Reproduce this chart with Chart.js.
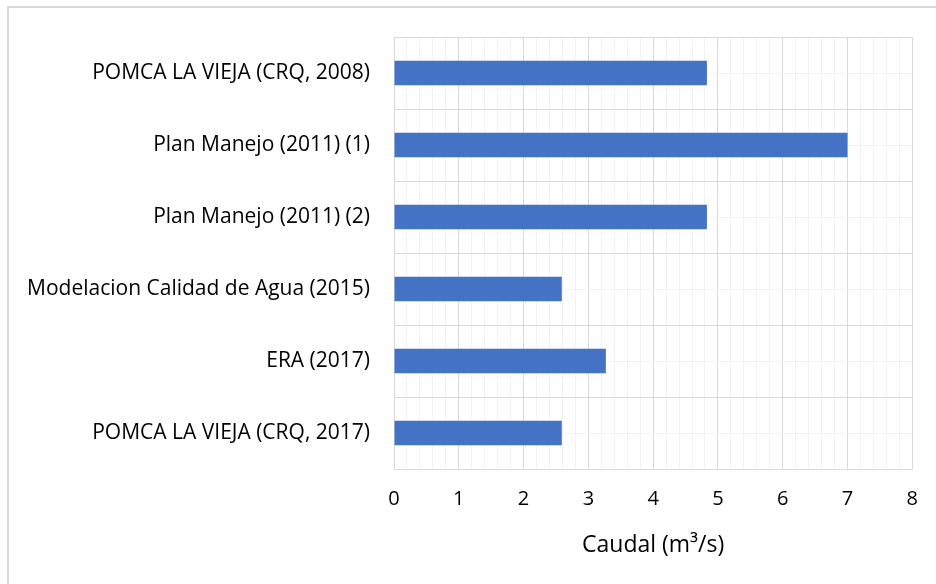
<!DOCTYPE html>
<html>
<head>
<meta charset="utf-8">
<script src="https://cdn.jsdelivr.net/npm/chart.js@4"></script>
<style>
  html, body { margin: 0; padding: 0; background: #fff; }
  #wrap { position: relative; width: 936px; height: 584px; overflow: hidden; }
  #frame { position: absolute; left: 7px; top: 6px; width: 940px; height: 600px; border: 2px solid #d9d9d9; box-sizing: border-box; }
  canvas { position: absolute; left: 0; top: 0; }
</style>
</head>
<body>
<div id="wrap">
  <div id="frame"></div>
  <canvas id="bar-chart" width="936" height="584"></canvas>
</div>
<script>
var sources = ['POMCA LA VIEJA (CRQ, 2008)', 'Plan Manejo (2011) (1)', 'Plan Manejo (2011) (2)', 'Modelacion Calidad de Agua (2015)', 'ERA (2017)', 'POMCA LA VIEJA (CRQ, 2017)'];
var caudal = [4.83, 7.0, 4.83, 2.59, 3.27, 2.59];
var xMin = 0;
var xMax = 8;
var xStep = 0.2;

var family = '"Open Sans", sans-serif';

var data = {
    labels: sources,
    datasets: [{
        label: 'Caudal',
        data: caudal,
        backgroundColor: '#4472c4',
        borderWidth: 0,
        barPercentage: 0.34,
        categoryPercentage: 1
    }]
};

function isMajor(v) {
    return Math.abs(v - Math.round(v)) < 1e-6;
}

var options = {
    indexAxis: 'y',
    responsive: false,
    animation: false,
    layout: { padding: { top: 37, right: 23, left: 0, bottom: 0 } },
    plugins: { legend: { display: false }, tooltip: { enabled: false } },
    scales: {
        x: {
            min: xMin,
            max: xMax,
            border: { display: false },
            ticks: {
                stepSize: xStep,
                autoSkip: false,
                maxRotation: 0,
                padding: 18,
                color: '#000',
                font: { family: family, size: 20 },
                callback: function (v) { return isMajor(v) ? String(Math.round(v)) : ''; }
            },
            grid: {
                drawTicks: false,
                lineWidth: 1,
                color: function (c) { return isMajor(c.tick.value) ? '#d9d9d9' : '#f2f2f2'; }
            },
            title: {
                display: true,
                text: 'Caudal (m³/s)',
                color: '#000',
                font: { family: family, size: 23 },
                padding: { top: 0, bottom: 25 }
            },
            afterFit: function (s) { s.height = 115; }
        },
        y: {
            offset: true,
            border: { display: false },
            ticks: { color: '#000', font: { family: family, size: 21 }, padding: 24 },
            grid: { offset: true, drawTicks: false, color: '#d9d9d9' },
            afterFit: function (s) { s.width = 394; }
        },
        y2: {
            type: 'category',
            labels: sources,
            position: 'right',
            offset: true,
            border: { display: false },
            ticks: { display: false },
            grid: { offset: false, drawTicks: false, color: '#f2f2f2' },
            afterFit: function (s) { s.width = 0; }
        }
    }
};

var ctx = document.getElementById('bar-chart').getContext('2d');
var chart = new Chart(ctx, {
    type: 'bar',
    data: data,
    options: options
});
</script>
</body>
</html>
